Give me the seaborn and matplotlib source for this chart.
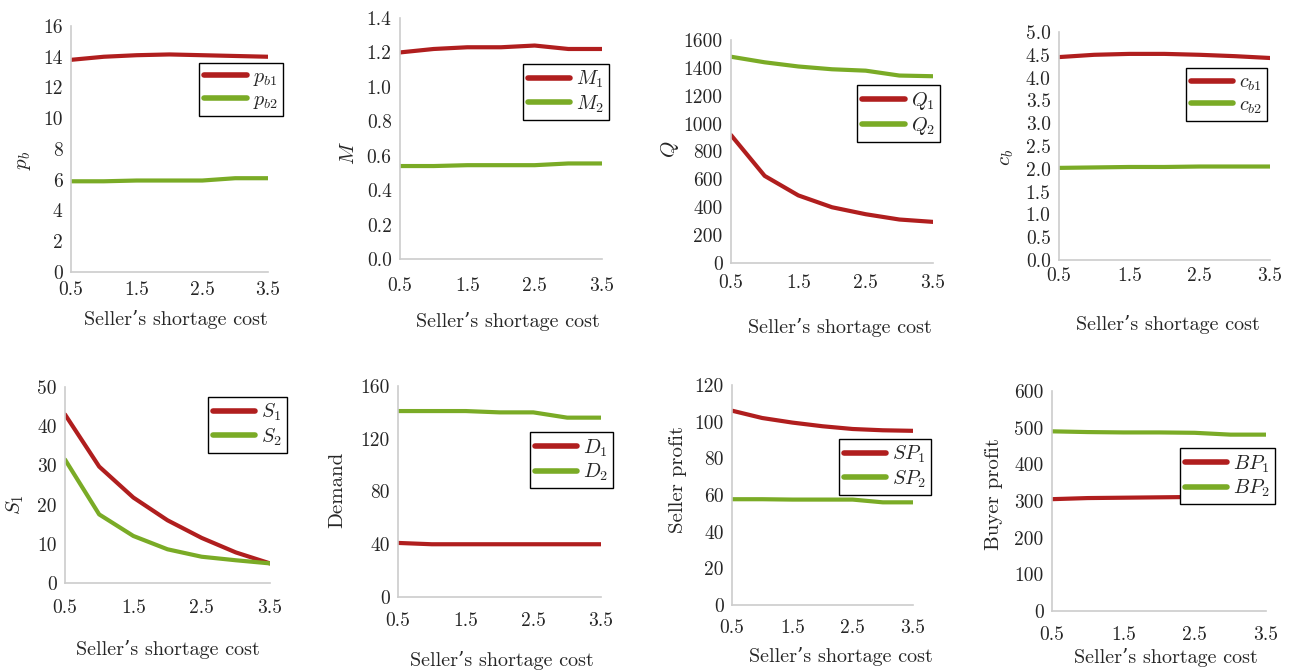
import pandas as pd
import seaborn as sns
import matplotlib.pyplot as plt

# Seller's shortage cost
cost = [0.5, 1.0, 1.5, 2.0, 2.5, 3.0, 3.5]

pb1 = [13.8, 14.0, 14.1, 14.15, 14.1, 14.05, 14.0]
pb2 = [5.9, 5.9, 5.95, 5.95, 5.95, 6.1, 6.1]
m1 = [1.20, 1.22, 1.23, 1.23, 1.24, 1.22, 1.22]
m2 = [0.54, 0.54, 0.545, 0.545, 0.545, 0.555, 0.555]
q1 = [918, 625, 485, 400, 350, 312, 295]
q2 = [1480, 1440, 1410, 1390, 1380, 1345, 1340]
cb1 = [4.45, 4.50, 4.52, 4.52, 4.50, 4.47, 4.43]
cb2 = [2.02, 2.03, 2.04, 2.04, 2.05, 2.05, 2.05]
s1 = [43, 29.7, 21.8, 16, 11.5, 7.8, 5]
s2 = [31.5, 17.5, 12, 8.6, 6.7, 5.8, 5]
d1 = [41, 40, 40, 40, 40, 40, 40]
d2 = [141, 141, 141, 140, 140, 136, 136]
sp1 = [106, 102, 99.5, 97.5, 96, 95.3, 95]
sp2 = [57.7, 57.7, 57.5, 57.5, 57.5, 56, 56]
bp1 = [305, 308, 309, 310, 311, 312, 313]
bp2 = [490, 488, 487, 487, 486, 481, 481]

names1 = ['$p_{b1}$', '$M_1$', '$Q_1$', '$c_{b1}$', '$S_1$', '$D_1$', '$SP_1$', '$BP_1$']
names2 = ['$p_{b2}$', '$M_2$', '$Q_2$', '$c_{b2}$', '$S_2$', '$D_2$', '$SP_2$', '$BP_2$']
ylabels = ['$p_b$', '$M$', '$Q$', '$c_b$', '$S_1$', 'Demand', 'Seller profit', 'Buyer profit']
series = [(pb1, pb2), (m1, m2), (q1, q2), (cb1, cb2), (s1, s2), (d1, d2), (sp1, sp2), (bp1, bp2)]
ymax = [16, 1.4, 1600, 5.0, 50, 160, 120, 600]
ystep = [2, 0.2, 200, 0.5, 10, 40, 20, 100]
yfmt = ['{:.0f}', '{:.1f}', '{:.0f}', '{:.1f}', '{:.0f}', '{:.0f}', '{:.0f}', '{:.0f}']

sns.set_style('white')
plt.rcParams['font.family'] = ['cmr10', 'DejaVu Serif']
plt.rcParams['mathtext.fontset'] = 'cm'
plt.rcParams['axes.unicode_minus'] = False

W, H = 1292, 670
fig = plt.figure(figsize=(W / 100, H / 100), dpi=100)

# axes boxes in pixels: left, top, right, bottom
boxes = [(71, 26, 268, 272), (400, 18, 602, 259), (731, 40, 933, 263), (1059, 32, 1270, 260),
         (65, 387, 270, 583), (398, 386, 601, 597), (732, 385, 913, 605), (1052, 391, 1266, 611)]
leg_anchor = [(1.076, 0.85), (1.035, 0.81), (1.035, 0.80), (0.986, 0.84),
              (1.083, 0.95), (1.06, 0.78), (1.10, 0.755), (1.04, 0.74)]
ylab_pos = [(-0.24, 0.455), (-0.25, 0.44), (-0.30, 0.51), (-0.246, 0.45),
            (-0.244, 0.40), (-0.30, 0.51), (-0.30, 0.57), (-0.27, 0.53)]
xlab_pos = [(0.53, -0.195), (0.535, -0.26), (0.54, -0.29), (0.517, -0.285),
            (0.50, -0.34), (0.51, -0.30), (0.60, -0.236), (0.53, -0.21)]
xpads = [6.5, 13, 8, 5, 11.5, 11, 10, 11]

red = '#b01e1e'
green = '#7aab26'

for i in range(8):
    l, t, r, b = boxes[i]
    ax = fig.add_axes([l / W, 1 - b / H, (r - l) / W, (b - t) / H])
    a, c = series[i]
    df = pd.DataFrame({'x': cost * 2, 'y': list(a) + list(c),
                       'name': [names1[i]] * len(cost) + [names2[i]] * len(cost)})
    sns.lineplot(data=df, x='x', y='y', hue='name', palette=[red, green], lw=3, ax=ax)
    ax.set_xlim(0.5, 3.5)
    ax.set_ylim(0, ymax[i])
    ax.set_xticks([0.5, 1.5, 2.5, 3.5])
    ax.set_xticklabels(['0.5', '1.5', '2.5', '3.5'])
    n = int(round(ymax[i] / ystep[i]))
    yt = [k * ystep[i] for k in range(n + 1)]
    ax.set_yticks(yt)
    ax.set_yticklabels([yfmt[i].format(v) for v in yt])
    ax.tick_params(axis='both', labelsize=14, length=0)
    ax.tick_params(axis='x', pad=xpads[i])
    ax.tick_params(axis='y', pad=6)
    for s in ['top', 'right']:
        ax.spines[s].set_visible(False)
    for s in ['left', 'bottom']:
        ax.spines[s].set_color('#cccccc')
        ax.spines[s].set_linewidth(1.2)
    ax.set_xlabel("Seller’s shortage cost", fontsize=14.5, va='center')
    ax.xaxis.set_label_coords(*xlab_pos[i])
    ax.set_ylabel(ylabels[i], fontsize=15, va='center')
    ax.yaxis.set_label_coords(*ylab_pos[i])
    leg = ax.legend(loc='upper right', bbox_to_anchor=leg_anchor[i], fontsize=14.5,
                    frameon=True, fancybox=False, edgecolor='black', framealpha=1,
                    handlelength=2.1, borderpad=0.25, labelspacing=0.15,
                    handletextpad=0.3, borderaxespad=0)
    leg.get_frame().set_linewidth(1)
    for h in leg.get_lines():
        h.set_linewidth(4)

fig.savefig('out.png', dpi=100)
